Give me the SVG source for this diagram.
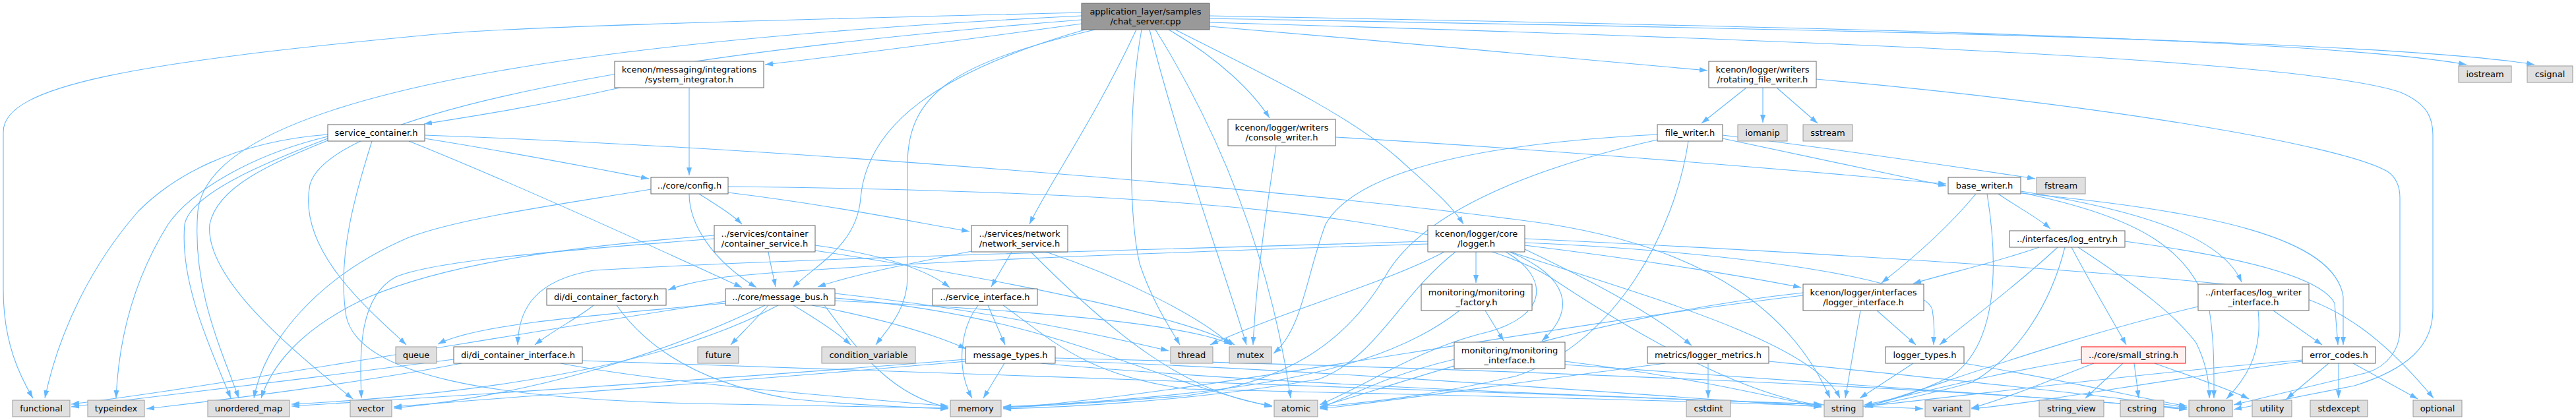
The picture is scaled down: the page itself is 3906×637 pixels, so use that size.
<svg xmlns="http://www.w3.org/2000/svg" width="3906" height="637" viewBox="0 0 3906 637">
<style>
.e{fill:none;stroke:#63b8ff;stroke-width:1.1;marker-end:url(#a)}
.n rect{fill:#fff;stroke:#666;stroke-width:1}
.g rect{fill:#e0e0e0;stroke:#999;stroke-width:1}
.r rect{fill:#999;stroke:#666;stroke-width:1}
.x rect{fill:#fff0f0;stroke:#f00;stroke-width:1}
text{font-family:"DejaVu Sans","Liberation Sans",sans-serif;font-size:13px;text-anchor:middle;fill:#000}
</style>
<defs>
<marker id="a" markerUnits="userSpaceOnUse" markerWidth="13" markerHeight="9" refX="12" refY="4.5" orient="auto"><path d="M0,0.5L12,4.5L0,8.5z" fill="#63b8ff"/></marker>
</defs>
<rect width="3906" height="637" fill="#fff"/>
<g id="edges">
<path class="e" d="M1640,19 C1100,32 760,42 660,52 C200,95 5,130 5,200 L5,440 C5,520 30,570 50,604"/>
<path class="e" d="M1640,24 C900,60 320,140 300,320 C290,440 340,540 362,604"/>
<path class="e" d="M1640,30 C1000,80 500,170 470,280 C450,380 560,470 616,523"/>
<path class="e" d="M1640,36 C1450,62 1300,82 1160,98"/>
<path class="e" d="M1645,45 C1420,110 1315,190 1305,300 C1300,370 1240,400 1202,436"/>
<path class="e" d="M1660,45 C1450,95 1376,140 1376,250 L1376,420 C1376,470 1345,500 1328,523"/>
<path class="e" d="M1723,45 C1660,180 1590,280 1561,340"/>
<path class="e" d="M1731,45 C1712,150 1710,320 1728,400 C1748,460 1776,500 1789,523"/>
<path class="e" d="M1743,45 C1790,230 1860,420 1890,523"/>
<path class="e" d="M1752,45 C1880,250 1935,450 1957,604"/>
<path class="e" d="M1772,45 C1850,90 1900,140 1925,179"/>
<path class="e" d="M1782,45 C1900,105 2040,170 2120,240 C2175,290 2200,310 2219,340"/>
<path class="e" d="M1834,40 C2100,62 2400,90 2589,107"/>
<path class="e" d="M1834,24 C2600,38 3500,55 3740,98"/>
<path class="e" d="M1834,28 C2600,42 3600,58 3843,98"/>
<path class="e" d="M1834,34 C2800,62 3500,92 3640,140 C3682,158 3689,180 3689,205 L3689,470 C3689,525 3650,560 3570,585 L3387,621"/>
<path class="e" d="M940,133 C820,160 720,176 643,188"/>
<path class="e" d="M1045,133 L1045,266"/>
<path class="e" d="M497,204 C350,215 260,270 210,320 C140,400 90,500 68,604"/>
<path class="e" d="M497,207 C380,235 290,290 255,340 C205,420 180,510 176,604"/>
<path class="e" d="M497,210 C420,240 290,290 280,340 C272,430 320,530 350,604"/>
<path class="e" d="M497,213 C420,245 330,280 318,340 C310,420 440,530 535,605"/>
<path class="e" d="M564,214 C540,290 510,390 525,480 C545,570 750,605 1050,612 L1438,619"/>
<path class="e" d="M644,210 C800,235 900,255 984,271"/>
<path class="e" d="M620,214 C760,270 960,360 1125,436"/>
<path class="e" d="M644,205 C1200,225 2000,290 2350,340 C2600,380 2720,480 2775,604"/>
<path class="e" d="M1060,294 C1085,310 1110,325 1125,340"/>
<path class="e" d="M1045,294 C1045,340 1080,395 1147,436"/>
<path class="e" d="M1104,292 C1250,310 1350,330 1470,351"/>
<path class="e" d="M987,287 C850,310 700,330 620,360 C480,420 400,520 385,604"/>
<path class="e" d="M1104,283 C1800,290 2200,330 2350,420 C2500,520 2650,600 2762,615"/>
<path class="e" d="M1165,382 C1168,400 1172,415 1176,435"/>
<path class="e" d="M1236,372 C1330,385 1400,405 1440,436"/>
<path class="e" d="M1083,357 C850,375 680,400 560,450 C450,500 410,560 396,604"/>
<path class="e" d="M1083,362 C850,380 660,395 600,420 C545,450 545,530 548,604"/>
<path class="e" d="M1236,380 C1500,420 1800,480 1872,523"/>
<path class="e" d="M900,463 C880,480 840,500 811,523"/>
<path class="e" d="M935,463 C975,520 1050,580 1200,605 C1300,615 1380,618 1438,620"/>
<path class="e" d="M1100,460 C900,478 720,492 664,522"/>
<path class="e" d="M1165,463 C1145,485 1125,505 1108,523"/>
<path class="e" d="M1203,463 C1240,485 1270,505 1290,523"/>
<path class="e" d="M1231,463 C1320,480 1400,500 1465,529"/>
<path class="e" d="M1266,445 C1500,470 1700,515 1772,532"/>
<path class="e" d="M1266,452 C1600,480 1720,570 1929,617"/>
<path class="e" d="M1160,463 C1000,540 800,600 597,619"/>
<path class="e" d="M1180,463 C1000,560 700,600 442,613"/>
<path class="e" d="M1100,457 C700,520 300,590 108,613"/>
<path class="e" d="M1266,456 C1550,470 1800,490 1868,523"/>
<path class="e" d="M1250,463 C1300,530 1350,600 1438,618"/>
<path class="e" d="M688,545 C500,570 250,600 108,617"/>
<path class="e" d="M700,551 C550,580 350,605 222,620"/>
<path class="e" d="M850,551 C1000,580 1250,600 1438,616"/>
<path class="e" d="M883,547 C1500,570 2300,592 2762,613"/>
<path class="e" d="M1483,463 C1455,500 1450,560 1474,604"/>
<path class="e" d="M1498,463 L1524,523"/>
<path class="e" d="M1521,463 C1600,520 1650,570 1800,590 C2200,600 2600,608 2762,616"/>
<path class="e" d="M1523,551 L1491,604"/>
<path class="e" d="M1464,548 C1100,580 800,600 597,617"/>
<path class="e" d="M1464,545 C1100,575 700,600 442,616"/>
<path class="e" d="M1600,547 C2000,560 2500,600 2762,617"/>
<path class="e" d="M1578,551 C2000,590 2700,610 2916,620"/>
<path class="e" d="M1600,543 C2300,560 3000,590 3316,621"/>
<path class="e" d="M1534,382 L1503,435"/>
<path class="e" d="M1473,381 C1380,400 1300,415 1240,435"/>
<path class="e" d="M1586,382 C1700,420 1820,480 1866,523"/>
<path class="e" d="M1563,382 C1680,500 1800,600 1929,615"/>
<path class="e" d="M1935,221 C1920,320 1905,420 1900,523"/>
<path class="e" d="M2025,208 C2400,230 2800,265 2951,279"/>
<path class="e" d="M2648,133 L2580,187"/>
<path class="e" d="M2673,133 L2673,186"/>
<path class="e" d="M2694,133 L2756,187"/>
<path class="e" d="M2754,120 C3200,160 3550,220 3620,260 C3635,270 3639,285 3639,300 L3639,500 C3639,530 3620,555 3590,565 L3387,614"/>
<path class="e" d="M2612,210 C2750,240 2880,268 2951,282"/>
<path class="e" d="M2612,205 C2800,228 3000,258 3086,271"/>
<path class="e" d="M2513,204 C2200,220 2050,270 2010,340 C1980,420 1975,500 1931,536"/>
<path class="e" d="M2560,214 C2540,350 2450,520 2300,570 C2150,605 2050,612 2001,617"/>
<path class="e" d="M2513,212 C2300,260 2150,330 2100,420 C2040,520 1950,580 1800,600 C1650,612 1550,617 1521,618"/>
<path class="e" d="M2238,382 L2238,429"/>
<path class="e" d="M2289,382 C2380,420 2390,470 2338,517"/>
<path class="e" d="M2283,382 C2350,420 2350,480 2250,505 C2150,530 2080,580 2001,614"/>
<path class="e" d="M2312,378 C2400,420 2500,470 2565,524"/>
<path class="e" d="M2312,372 C2500,395 2650,420 2731,436"/>
<path class="e" d="M2312,368 C2600,380 2920,420 2930,470 C2935,500 2932,510 2932,523"/>
<path class="e" d="M2312,362 C2900,390 3300,420 3450,440 C3550,460 3620,520 3690,604"/>
<path class="e" d="M2165,370 C1700,385 1300,400 1100,420 C1050,428 1030,433 1013,440"/>
<path class="e" d="M2165,366 C1700,380 1200,392 900,410 C810,425 786,470 785,523"/>
<path class="e" d="M2190,382 C2100,430 1950,470 1835,523"/>
<path class="e" d="M2207,382 C2120,450 2090,540 2000,575 C1800,610 1600,618 1521,620"/>
<path class="e" d="M2290,382 C2500,450 2750,520 2790,604"/>
<path class="e" d="M2252,471 L2280,517"/>
<path class="e" d="M2213,471 C2100,560 1900,600 1521,617"/>
<path class="e" d="M2205,545 C2100,570 2050,600 2001,619"/>
<path class="e" d="M2373,548 C2550,570 2680,600 2762,618"/>
<path class="e" d="M2373,553 C2800,580 3100,605 3316,619"/>
<path class="e" d="M2590,551 L2590,604"/>
<path class="e" d="M2525,551 C2300,580 2100,610 2001,620"/>
<path class="e" d="M2682,548 C2900,570 3200,600 3316,618"/>
<path class="e" d="M2996,294 C2950,350 2890,400 2853,429"/>
<path class="e" d="M3013,294 C3030,400 3030,520 2960,570 C2900,600 2850,612 2827,616"/>
<path class="e" d="M3030,294 C3060,315 3090,330 3109,347"/>
<path class="e" d="M3064,290 C3250,320 3370,360 3399,428"/>
<path class="e" d="M3064,293 C3350,320 3540,360 3553,450 L3553,523"/>
<path class="e" d="M3064,292 C3250,330 3320,380 3350,470 C3358,520 3357,570 3357,604"/>
<path class="e" d="M3092,375 C3020,400 2950,415 2901,430"/>
<path class="e" d="M3120,375 C3050,440 2980,490 2941,523"/>
<path class="e" d="M3131,375 C3110,460 3060,540 2990,580 C2900,605 2850,612 2828,618"/>
<path class="e" d="M3141,375 C3170,430 3200,480 3224,523"/>
<path class="e" d="M3151,375 C3250,440 3300,480 3330,520 C3345,550 3350,580 3350,604"/>
<path class="e" d="M3222,366 C3400,390 3520,420 3540,460 L3545,523"/>
<path class="e" d="M2846,471 L2905,523"/>
<path class="e" d="M2821,471 L2798,604"/>
<path class="e" d="M2734,448 C2300,500 1800,600 1521,619"/>
<path class="e" d="M2734,444 C2400,480 2100,590 2001,617"/>
<path class="e" d="M2901,551 L2820,604"/>
<path class="e" d="M2978,551 C3150,580 3250,605 3316,616"/>
<path class="e" d="M3156,545 C3000,570 2900,600 2827,614"/>
<path class="e" d="M3175,551 C3100,580 3040,605 2989,619"/>
<path class="e" d="M3219,551 L3162,604"/>
<path class="e" d="M3236,551 L3243,604"/>
<path class="e" d="M3267,551 C3320,570 3380,590 3410,605"/>
<path class="e" d="M3447,471 L3521,523"/>
<path class="e" d="M3424,471 C3432,540 3400,580 3376,605"/>
<path class="e" d="M3333,465 C3100,520 2900,600 2827,617"/>
<path class="e" d="M3491,546 C3200,570 2950,605 2827,616"/>
<path class="e" d="M3491,548 C3250,580 3100,610 2989,620"/>
<path class="e" d="M3531,551 L3467,605"/>
<path class="e" d="M3546,551 L3546,604"/>
<path class="e" d="M3568,551 L3666,605"/>
</g>
<g id="n_chat_server" class="r"><rect x="1640" y="5" width="194" height="40"/><text x="1737" y="21.5">application_layer/samples</text><text x="1737" y="37">/chat_server.cpp</text></g>
<g id="n_system_integrator" class="n"><rect x="932" y="93" width="226" height="40"/><text x="1045" y="109.5">kcenon/messaging/integrations</text><text x="1045" y="125">/system_integrator.h</text></g>
<g id="n_service_container" class="n"><rect x="497" y="189" width="147" height="25"/><text x="570.5" y="206">service_container.h</text></g>
<g id="n_config" class="n"><rect x="987" y="269" width="117" height="25"/><text x="1045.5" y="286">../core/config.h</text></g>
<g id="n_container_service" class="n"><rect x="1083" y="342" width="153" height="40"/><text x="1159.5" y="358.5">../services/container</text><text x="1159.5" y="374">/container_service.h</text></g>
<g id="n_di_container_factory" class="n"><rect x="829" y="438" width="181" height="25"/><text x="919.5" y="455">di/di_container_factory.h</text></g>
<g id="n_message_bus" class="n"><rect x="1100" y="438" width="166" height="25"/><text x="1183" y="455">../core/message_bus.h</text></g>
<g id="n_di_container_interface" class="n"><rect x="688" y="526" width="195" height="25"/><text x="785.5" y="543">di/di_container_interface.h</text></g>
<g id="n_queue" class="g"><rect x="600" y="526" width="62" height="25"/><text x="631" y="543">queue</text></g>
<g id="n_future" class="g"><rect x="1058" y="526" width="62" height="25"/><text x="1089" y="543">future</text></g>
<g id="n_condition_variable" class="g"><rect x="1246" y="526" width="142" height="25"/><text x="1317" y="543">condition_variable</text></g>
<g id="n_network_service" class="n"><rect x="1473" y="342" width="146" height="40"/><text x="1546" y="358.5">../services/network</text><text x="1546" y="374">/network_service.h</text></g>
<g id="n_service_interface" class="n"><rect x="1414" y="438" width="159" height="25"/><text x="1493.5" y="455">../service_interface.h</text></g>
<g id="n_message_types" class="n"><rect x="1464" y="526" width="136" height="25"/><text x="1532" y="543">message_types.h</text></g>
<g id="n_thread" class="g"><rect x="1775" y="526" width="64" height="25"/><text x="1807" y="543">thread</text></g>
<g id="n_mutex" class="g"><rect x="1864" y="526" width="64" height="25"/><text x="1896" y="543">mutex</text></g>
<g id="n_memory" class="g"><rect x="1441" y="607" width="77" height="25"/><text x="1479.5" y="624">memory</text></g>
<g id="n_atomic" class="g"><rect x="1932" y="607" width="66" height="25"/><text x="1965" y="624">atomic</text></g>
<g id="n_console_writer" class="n"><rect x="1862" y="181" width="163" height="40"/><text x="1943.5" y="197.5">kcenon/logger/writers</text><text x="1943.5" y="213">/console_writer.h</text></g>
<g id="n_rotating_file_writer" class="n"><rect x="2591" y="93" width="163" height="40"/><text x="2672.5" y="109.5">kcenon/logger/writers</text><text x="2672.5" y="125">/rotating_file_writer.h</text></g>
<g id="n_file_writer" class="n"><rect x="2513" y="189" width="99" height="25"/><text x="2562.5" y="206">file_writer.h</text></g>
<g id="n_logger" class="n"><rect x="2165" y="342" width="147" height="40"/><text x="2238.5" y="358.5">kcenon/logger/core</text><text x="2238.5" y="374">/logger.h</text></g>
<g id="n_monitoring_factory" class="n"><rect x="2155" y="431" width="168" height="40"/><text x="2239" y="447.5">monitoring/monitoring</text><text x="2239" y="463">_factory.h</text></g>
<g id="n_monitoring_interface" class="n"><rect x="2205" y="519" width="168" height="40"/><text x="2289" y="535.5">monitoring/monitoring</text><text x="2289" y="551">_interface.h</text></g>
<g id="n_logger_metrics" class="n"><rect x="2498" y="526" width="184" height="25"/><text x="2590" y="543">metrics/logger_metrics.h</text></g>
<g id="n_cstdint" class="g"><rect x="2557" y="607" width="67" height="25"/><text x="2590.5" y="624">cstdint</text></g>
<g id="n_iomanip" class="g"><rect x="2635" y="189" width="75" height="25"/><text x="2672.5" y="206">iomanip</text></g>
<g id="n_sstream" class="g"><rect x="2734" y="189" width="75" height="25"/><text x="2771.5" y="206">sstream</text></g>
<g id="n_base_writer" class="n"><rect x="2954" y="269" width="110" height="25"/><text x="3009" y="286">base_writer.h</text></g>
<g id="n_fstream" class="g"><rect x="3088" y="269" width="74" height="25"/><text x="3125" y="286">fstream</text></g>
<g id="n_log_entry" class="n"><rect x="3047" y="350" width="175" height="25"/><text x="3134.5" y="367">../interfaces/log_entry.h</text></g>
<g id="n_logger_interface" class="n"><rect x="2734" y="431" width="183" height="40"/><text x="2825.5" y="447.5">kcenon/logger/interfaces</text><text x="2825.5" y="463">/logger_interface.h</text></g>
<g id="n_logger_types" class="n"><rect x="2859" y="526" width="119" height="25"/><text x="2918.5" y="543">logger_types.h</text></g>
<g id="n_small_string" class="x"><rect x="3156" y="526" width="158" height="25"/><text x="3235" y="543">../core/small_string.h</text></g>
<g id="n_string" class="g"><rect x="2766" y="607" width="59" height="25"/><text x="2795.5" y="624">string</text></g>
<g id="n_variant" class="g"><rect x="2919" y="607" width="68" height="25"/><text x="2953" y="624">variant</text></g>
<g id="n_string_view" class="g"><rect x="3092" y="607" width="98" height="25"/><text x="3141" y="624">string_view</text></g>
<g id="n_cstring" class="g"><rect x="3215" y="607" width="66" height="25"/><text x="3248" y="624">cstring</text></g>
<g id="n_iostream" class="g"><rect x="3728" y="100" width="80" height="25"/><text x="3768" y="117">iostream</text></g>
<g id="n_csignal" class="g"><rect x="3832" y="100" width="69" height="25"/><text x="3866.5" y="117">csignal</text></g>
<g id="n_log_writer_interface" class="n"><rect x="3333" y="431" width="168" height="40"/><text x="3417" y="447.5">../interfaces/log_writer</text><text x="3417" y="463">_interface.h</text></g>
<g id="n_error_codes" class="n"><rect x="3491" y="526" width="111" height="25"/><text x="3546.5" y="543">error_codes.h</text></g>
<g id="n_chrono" class="g"><rect x="3319" y="607" width="66" height="25"/><text x="3352" y="624">chrono</text></g>
<g id="n_utility" class="g"><rect x="3415" y="607" width="60" height="25"/><text x="3445" y="624">utility</text></g>
<g id="n_stdexcept" class="g"><rect x="3503" y="607" width="87" height="25"/><text x="3546.5" y="624">stdexcept</text></g>
<g id="n_optional" class="g"><rect x="3659" y="607" width="74" height="25"/><text x="3696" y="624">optional</text></g>
<g id="n_functional" class="g"><rect x="19" y="607" width="87" height="25"/><text x="62.5" y="624">functional</text></g>
<g id="n_typeindex" class="g"><rect x="133" y="607" width="86" height="25"/><text x="176" y="624">typeindex</text></g>
<g id="n_unordered_map" class="g"><rect x="315" y="607" width="124" height="25"/><text x="377" y="624">unordered_map</text></g>
<g id="n_vector" class="g"><rect x="531" y="607" width="63" height="25"/><text x="562.5" y="624">vector</text></g>
</svg>
